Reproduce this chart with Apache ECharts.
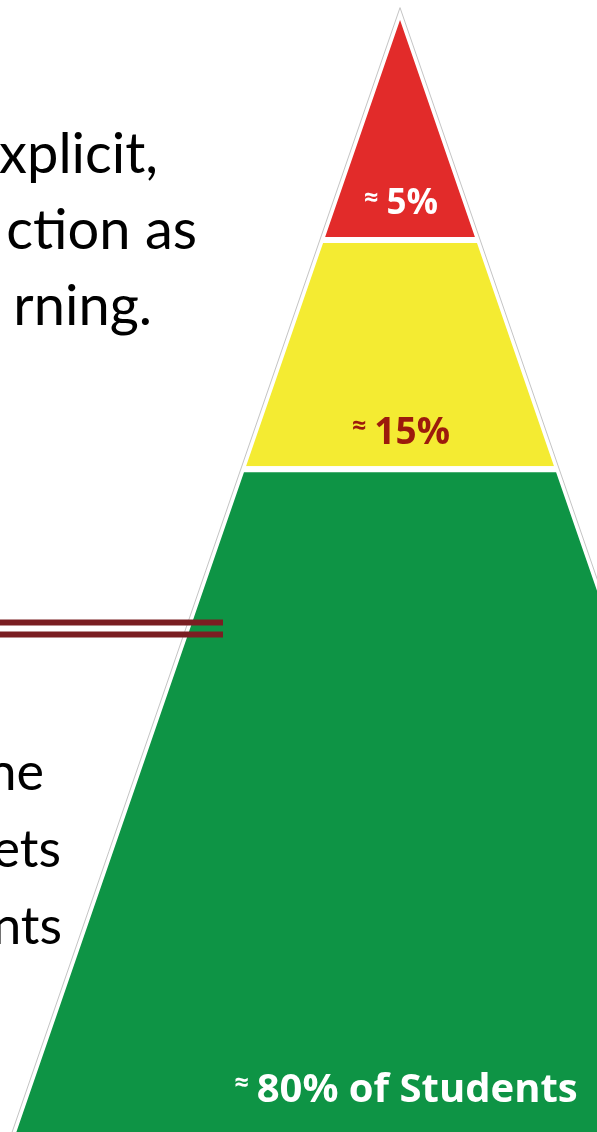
<!DOCTYPE html>
<html>
<head>
<meta charset="utf-8">
<script src="https://cdn.jsdelivr.net/npm/echarts@6/dist/echarts.min.js"></script>
<style>
  html, body { margin: 0; padding: 0; background: #fff; }
  #chart { width: 597px; height: 1132px; }
</style>
</head>
<body>
<div id="chart"></div>
<script>
// ---- data ----
const tierNames = ['Tier 3', 'Tier 2', 'Tier 1'];
const tierShares = [5, 15, 80];
const tierLabels = ['5%', '15%', '80% of Students'];
// pyramid depth (apex = 0), each of the upper tiers is one unit tall
const tierTop = [0, 1, 2];
const tierBottom = [1, 2, 5];
const leftTextUpper = ['xplicit,', 'ction as', 'rning.'];
const leftTextLower = ['ne', 'ets', 'nts'];

// ---- styles ----
const tierColors = ['#e22b2a', '#f4eb32', '#0e9445'];
const labelColors = ['#ffffff', '#9c1b0c', '#ffffff'];
const labelSizes = [35, 37, 40];

const chart = echarts.init(document.getElementById('chart'), null, { renderer: 'canvas' });

function renderTier(params, api) {
  const i = params.dataIndex;
  const d0 = api.value(0), d1 = api.value(1);
  const H = api.getHeight();
  const pts = d0 === 0
    ? [api.coord([0, 0]), api.coord([d1, d1]), api.coord([-d1, d1])]
    : [api.coord([-d0, d0]), api.coord([d0, d0]), api.coord([d1, d1]), api.coord([-d1, d1])];
  const c = api.coord([0, d1]);
  const bottomPx = Math.min(c[1], H - 5);
  const fs = labelSizes[i];
  return {
    type: 'group',
    children: [
      {
        type: 'polygon',
        shape: { points: pts },
        style: { fill: tierColors[i], stroke: '#ffffff', lineWidth: 6, lineJoin: 'miter' }
      },
      {
        type: 'text',
        x: c[0] + (i === 2 ? 6 : 1),
        y: bottomPx - 36,
        style: {
          text: '{s|≈}{b|' + tierLabels[i] + '}',
          align: 'center',
          verticalAlign: 'middle',
          fill: labelColors[i],
          rich: {
            s: { fontSize: 25, fontWeight: 'bold', fontFamily: 'Open Sans', fill: labelColors[i],
                 lineHeight: 20, verticalAlign: 'top', padding: [0, 8, 0, 0] },
            b: { fontSize: fs, fontWeight: 'bold', fontFamily: 'Open Sans', fill: labelColors[i],
                 lineHeight: fs }
          }
        }
      }
    ]
  };
}

function renderOutline(params, api) {
  const d1 = api.value(1);
  const a = api.coord([0, 0]);
  const l = api.coord([-d1, d1]);
  const r = api.coord([d1, d1]);
  // offset outline ~1px outside the pyramid edge
  const dx = 1.06, dy = 3.07;
  return {
    type: 'polyline',
    shape: { points: [[l[0] - dx, l[1]], [a[0], a[1] - dy], [r[0] + dx, r[1]]] },
    style: { stroke: '#c4c4c4', lineWidth: 1, fill: null }
  };
}

const upperMid = [154.5, 230.5, 306.5];
const upperRight = [158, 197, 152];
const lowerMid = [773, 850, 927];
const lowerRight = [44, 61, 62];

const graphics = [];
leftTextUpper.forEach((t, i) => graphics.push({
  type: 'text', x: upperRight[i], y: upperMid[i], z: 10,
  style: { text: t, font: '56px Lato', fill: '#000', align: 'right', verticalAlign: 'middle' }
}));
leftTextLower.forEach((t, i) => graphics.push({
  type: 'text', x: lowerRight[i], y: lowerMid[i], z: 10,
  style: { text: t, font: '52px Lato', fill: '#000', align: 'right', verticalAlign: 'middle' }
}));
graphics.push({ type: 'rect', shape: { x: 0, y: 619.5, width: 223, height: 6 }, style: { fill: '#7a1e22' }, z: 20 });
graphics.push({ type: 'rect', shape: { x: 0, y: 631.5, width: 223, height: 6 }, style: { fill: '#7a1e22' }, z: 20 });

chart.setOption({
  animation: false,
  backgroundColor: '#ffffff',
  grid: { left: 0, right: 0, top: 0, bottom: 0, containLabel: false },
  xAxis: { type: 'value', min: -5.057, max: 2.49, show: false },
  yAxis: { type: 'value', inverse: true, min: -0.0467, max: 4.89, show: false },
  graphic: graphics,
  series: [
    {
      type: 'custom',
      name: 'tiers',
      renderItem: renderTier,
      clip: true,
      data: tierTop.map((t, i) => ({ name: tierNames[i], value: [t, tierBottom[i], tierShares[i]] }))
    },
    {
      type: 'custom',
      name: 'outline',
      renderItem: renderOutline,
      clip: true,
      z: 3,
      data: [[tierTop[0], tierBottom[tierBottom.length - 1]]]
    }
  ]
});
</script>
</body>
</html>
